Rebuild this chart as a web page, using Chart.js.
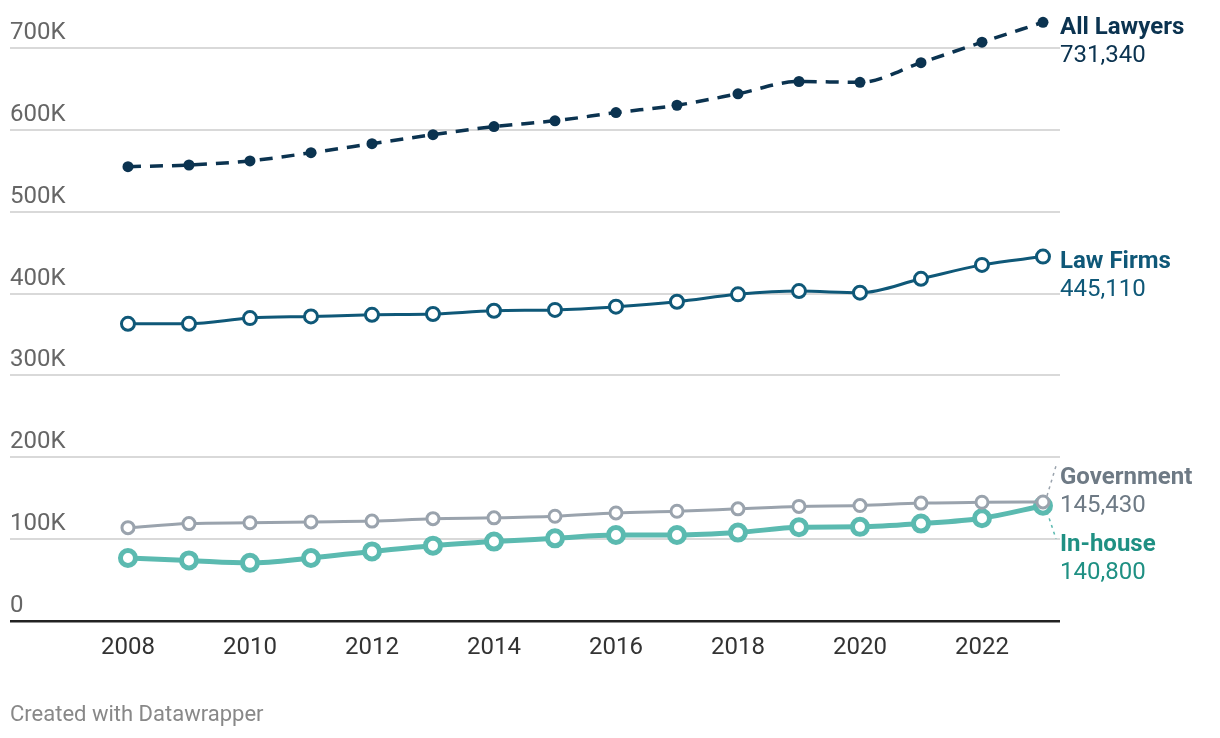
<!DOCTYPE html>
<html><head><meta charset="utf-8">
<script src="https://cdn.jsdelivr.net/npm/chart.js@4/dist/chart.umd.min.js"></script>
<style>html,body{margin:0;padding:0;background:#fff}#wrap{width:1220px;height:738px;position:relative}</style>
</head><body><div id="wrap"><canvas id="c" width="1220" height="738"></canvas></div>
<script>
const years = [2008,2009,2010,2011,2012,2013,2014,2015,2016,2017,2018,2019,2020,2021,2022,2023];
const allLawyers = [555000,557000,562000,572000,583000,594000,604000,611000,621000,630000,644000,659000,658000,682000,707000,731340];
const lawFirms = [363000,363000,370000,372000,374000,375000,379000,380000,384000,390000,399000,403000,401000,418000,435000,445110];
const government = [114000,119000,120000,121000,122000,125000,126000,128000,132000,134000,137000,140000,141000,144000,145000,145430];
const inHouse = [77000,74000,71000,77000,85000,92000,97000,101000,105000,105000,108000,114500,115000,119000,125500,140800];
const yTicks = [0,100000,200000,300000,400000,500000,600000,700000];
const yTickLabels = ['0','100K','200K','300K','400K','500K','600K','700K'];
const xTicks = [2008,2010,2012,2014,2016,2018,2020,2022];
const seriesNames = ['All Lawyers','Law Firms','Government','In-house'];

const FONT = 'Roboto, "Noto Sans", sans-serif';
const pts = a => a.map((v,i)=>({x:years[i],y:v}));

const overlay = {
  id:'overlay',
  afterDraw(chart){
    const ctx = chart.ctx, xs = chart.scales.x, ys = chart.scales.y;
    ctx.save();
    ctx.font = '24px '+FONT; ctx.fillStyle='#666'; ctx.textAlign='left'; ctx.textBaseline='alphabetic';
    yTicks.forEach((v,i)=>{ ctx.fillText(yTickLabels[i], 10, ys.getPixelForValue(v)-9); });
    ctx.fillStyle='#333'; ctx.textAlign='center'; ctx.textBaseline='middle';
    xTicks.forEach(v=>{ ctx.fillText(String(v), xs.getPixelForValue(v), 648); });
    ctx.font='22px '+FONT; ctx.fillStyle='#888'; ctx.textAlign='left';
    ctx.fillText('Created with Datawrapper', 10, 715);
    const lx = 1060, last = years.length-1, px = xs.getPixelForValue(years[last]);
    const yA = ys.getPixelForValue(allLawyers[last]);
    const yL = ys.getPixelForValue(lawFirms[last]);
    const yG = ys.getPixelForValue(government[last]);
    const yI = ys.getPixelForValue(inHouse[last]);
    const lab = (name,val,y,col)=>{
      ctx.textAlign='left'; ctx.textBaseline='middle'; ctx.fillStyle=col;
      ctx.font='bold 24px '+FONT; ctx.fillText(name, lx, y);
      ctx.font='24px '+FONT; ctx.fillText(val.toLocaleString('en-US'), lx, y+28);
    };
    lab(seriesNames[0], allLawyers[last], yA+6, '#0b3350');
    lab(seriesNames[1], lawFirms[last], yL+5, '#0f5878');
    lab(seriesNames[2], government[last], yG-24, '#6e7a85');
    lab(seriesNames[3], inHouse[last], yI+39, '#1f9083');
    ctx.setLineDash([3,4]); ctx.lineWidth=1.5;
    ctx.strokeStyle='#9aa3ad'; ctx.beginPath(); ctx.moveTo(px+4,yG-6); ctx.lineTo(1056,yG-36); ctx.stroke();
    ctx.strokeStyle='#5bbab0'; ctx.beginPath(); ctx.moveTo(px+4,yI+6); ctx.lineTo(1056,yI+33); ctx.stroke();
    ctx.restore();
  }
};

new Chart(document.getElementById('c'), {
  type:'line',
  data:{ datasets:[
    { label:seriesNames[2], data:pts(government), borderColor:'#9aa3ad', backgroundColor:'#fff', borderWidth:3,
      pointRadius:6, pointBorderWidth:3, pointBackgroundColor:'#fff', pointBorderColor:'#9aa3ad', cubicInterpolationMode:'monotone', order:0 },
    { label:seriesNames[3], data:pts(inHouse), borderColor:'#5bbab0', backgroundColor:'#fff', borderWidth:5,
      pointRadius:7.5, pointBorderWidth:5, pointBackgroundColor:'#fff', pointBorderColor:'#5bbab0', cubicInterpolationMode:'monotone', order:1 },
    { label:seriesNames[1], data:pts(lawFirms), borderColor:'#0f5878', backgroundColor:'#fff', borderWidth:3,
      pointRadius:6.5, pointBorderWidth:3, pointBackgroundColor:'#fff', pointBorderColor:'#0f5878', cubicInterpolationMode:'monotone', order:2 },
    { label:seriesNames[0], data:pts(allLawyers), borderColor:'#0b3350', backgroundColor:'#0b3350', borderWidth:3.5, borderDash:[13,9],
      pointRadius:5.5, pointBorderWidth:0, pointBackgroundColor:'#0b3350', cubicInterpolationMode:'monotone', order:3 }
  ]},
  options:{
    responsive:false, animation:false, devicePixelRatio:1,
    layout:{autoPadding:false, padding:{left:10,right:160,top:7,bottom:117}},
    plugins:{legend:{display:false}, tooltip:{enabled:false}},
    scales:{
      x:{type:'linear', min:2006.066, max:2023.279, display:true,
         grid:{display:false, drawTicks:false}, ticks:{display:false}, border:{display:false}},
      y:{type:'linear', min:0, max:750000, display:true,
         afterBuildTicks:s=>{ s.ticks = yTicks.map(v=>({value:v})); },
         grid:{drawTicks:false, color:c=>c.tick && c.tick.value===0 ? '#222':'#d9d9d9', lineWidth:c=>c.tick && c.tick.value===0 ? 2.5:2},
         ticks:{display:false}, border:{display:false}}
    }
  },
  plugins:[overlay]
});
</script></body></html>
